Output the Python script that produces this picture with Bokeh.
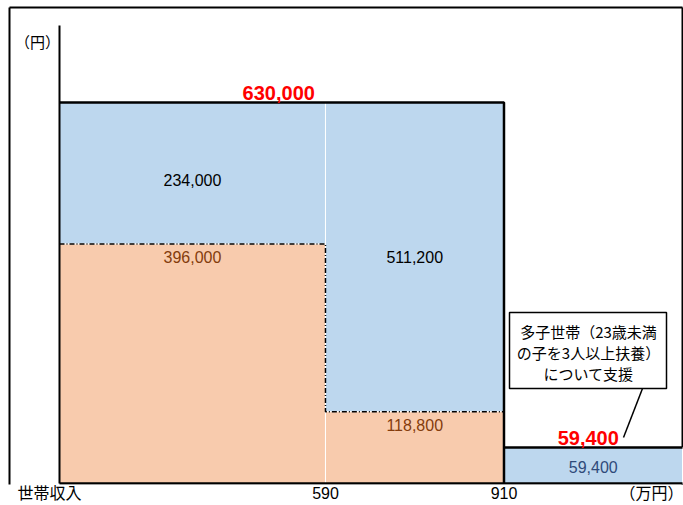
from bokeh.plotting import figure
from bokeh.models import Range1d, FixedTicker, ColumnDataSource
from bokeh.core.properties import value
from bokeh.embed import file_html
from bokeh.resources import INLINE

# ---------------- data ----------------
income_breaks = [590, 910]                 # 世帯収入 (万円)
tick_labels = ["590", "910"]
axis_name = "世帯収入"
axis_unit = "（万円）"
y_unit = "（円）"
base_support = [396000, 118800, 0]          # orange part (円)
added_support = [234000, 511200, 59400]     # blue part (円)
total_support = [630000, 630000, 59400]     # total (円)
callout_lines = ["多子世帯（23歳未満", "の子を3人以上扶養）", "について支援"]

# ---------------- layout ----------------
W, H = 683, 505
MB = 21                              # room for the x-axis labels
FH = H - MB                          # frame height (frame spans whole width)
band_w = [149, 100, 100]             # schematic (not to scale) band widths
X_END = sum(band_w)
X0_PX, XEND_PX = 59, 682             # page x of income 0 and of the chart's right end
Y0_PX, YTOP_PX = 483, 102            # page y of 0 円 and of the top amount
XS = (XEND_PX - X0_PX) / X_END
YK = total_support[0] / (Y0_PX - YTOP_PX)
BLUE = "#BDD7EE"
ORANGE = "#F8CBAD"
JP = "Noto Sans CJK JP"
LAT = "Liberation Sans"


def dx(px):
    return (px - X0_PX) / XS


def dy(py):
    return (Y0_PX - py) * YK


edges = [0]
for w in band_w:
    edges.append(edges[-1] + w)

p = figure(width=W, height=H, output_backend="svg", toolbar_location=None,
           x_range=Range1d(dx(0), dx(W)), y_range=Range1d(dy(FH), dy(0)),
           min_border_left=0, min_border_right=0, min_border_top=0, min_border_bottom=MB)
p.outline_line_color = None
p.xgrid.visible = False
p.ygrid.visible = False
p.yaxis.visible = False
p.background_fill_color = "white"
p.border_fill_color = "white"

# outer frame of the picture
p.line(x=[dx(9), dx(9)], y=[dy(7), dy(FH + 5)], line_color="black", line_width=2)
p.line(x=[dx(682), dx(682)], y=[dy(7), dy(FH + 5)], line_color="black", line_width=2)
p.line(x=[dx(9), dx(682)], y=[dy(7), dy(7)], line_color="black", line_width=2)

# bars
n = len(total_support)
lefts = edges[:-1]
rights = edges[1:]
p.quad(left=lefts, right=rights, bottom=base_support,
       top=[b + a for b, a in zip(base_support, added_support)],
       fill_color=BLUE, line_color="white", line_width=1)
oi = [i for i in range(n) if base_support[i] > 0]
p.quad(left=[lefts[i] for i in oi], right=[rights[i] for i in oi], bottom=[0] * len(oi),
       top=[base_support[i] for i in oi], fill_color=ORANGE, line_color="white", line_width=1)

# dash-dot boundary between orange and blue
p.line(x=[edges[0], edges[1], edges[1], edges[2]],
       y=[base_support[0], base_support[0], base_support[1], base_support[1]],
       line_color="black", line_width=1.5, line_dash="5 2 1 2")

# thick outline
p.line(x=[edges[0], edges[2], edges[2]], y=[total_support[0], total_support[1], 0],
       line_color="black", line_width=2.5)
p.line(x=[edges[2], edges[3]], y=[total_support[2], total_support[2]],
       line_color="black", line_width=2.5)

# axes lines (y axis and baseline)
p.line(x=[0, 0], y=[0, dy(25)], line_color="black", line_width=2)
p.line(x=[0, edges[3]], y=[0, 0], line_color="black", line_width=2.5)

# value labels
centers = [(l + r) / 2 for l, r in zip(lefts, rights)]
blue_src = ColumnDataSource(dict(
    x=centers, y=[b + a / 2 for b, a in zip(base_support, added_support)],
    t=[f"{a:,}" for a in added_support],
    c=["black", "black", "#2F4A7A"], yo=[7, 0, 1]))
p.text(x="x", y="y", text="t", text_color="c", y_offset="yo", source=blue_src,
       text_align="center", text_baseline="middle", text_font=value(LAT), text_font_size="16px")

org_src = ColumnDataSource(dict(
    x=[centers[i] for i in oi], y=[base_support[i] for i in oi],
    t=[f"{base_support[i]:,}" for i in oi]))
p.text(x="x", y="y", text="t", source=org_src, y_offset=13, text_color="#843C0C",
       text_align="center", text_baseline="middle", text_font=value(LAT), text_font_size="16px")

red_src = ColumnDataSource(dict(
    x=[(edges[0] + edges[2]) / 2, centers[2]], y=[total_support[0], total_support[2]],
    t=[f"{total_support[0]:,}", f"{total_support[2]:,}"], xo=[-3, -5], yo=[-10, -10]))
p.text(x="x", y="y", text="t", source=red_src, x_offset="xo", y_offset="yo",
       text_color="#FF0000", text_font_style="bold",
       text_align="center", text_baseline="middle", text_font=value(LAT), text_font_size="20px")

# callout
p.quad(left=[dx(509)], right=[dx(666)], top=[dy(312)], bottom=[dy(388)],
       fill_color="white", line_color="black", line_width=1.5)
p.text(x=[dx(588)] * 3, y=[dy(331), dy(352), dy(373)], text=callout_lines,
       text_align="center", text_baseline="middle", text_font=value(JP),
       text_font_size="15px", text_color="black")
p.segment(x0=[dx(642)], y0=[dy(388)], x1=[dx(623)], y1=[dy(437)],
          line_color="black", line_width=1.5)

# y unit
p.text(x=[dx(37)], y=[dy(41)], text=[y_unit], text_align="center", text_baseline="middle",
       text_font=value(JP), text_font_size="15px", text_color="black")

# x axis: tick labels only
name_pos, unit_pos = dx(49), dx(651)
ticks = [name_pos, edges[1], edges[2], unit_pos]
labels = [axis_name, tick_labels[0], tick_labels[1], axis_unit]
p.xaxis.ticker = FixedTicker(ticks=ticks)
p.xaxis.major_label_overrides = {t: l for t, l in zip(ticks, labels)}
p.xaxis.axis_line_color = None
p.xaxis.major_tick_line_color = None
p.xaxis.minor_tick_line_color = None
p.xaxis.major_tick_out = 0
p.xaxis.major_tick_in = 0
p.xaxis.minor_tick_out = 0
p.xaxis.minor_tick_in = 0
p.xaxis.major_label_text_font = "Liberation Sans, Noto Sans CJK JP"
p.xaxis.major_label_text_font_size = "16px"
p.xaxis.major_label_text_color = "black"
p.xaxis.major_label_standoff = 0

open("out.html", "w").write(file_html(p, INLINE))
